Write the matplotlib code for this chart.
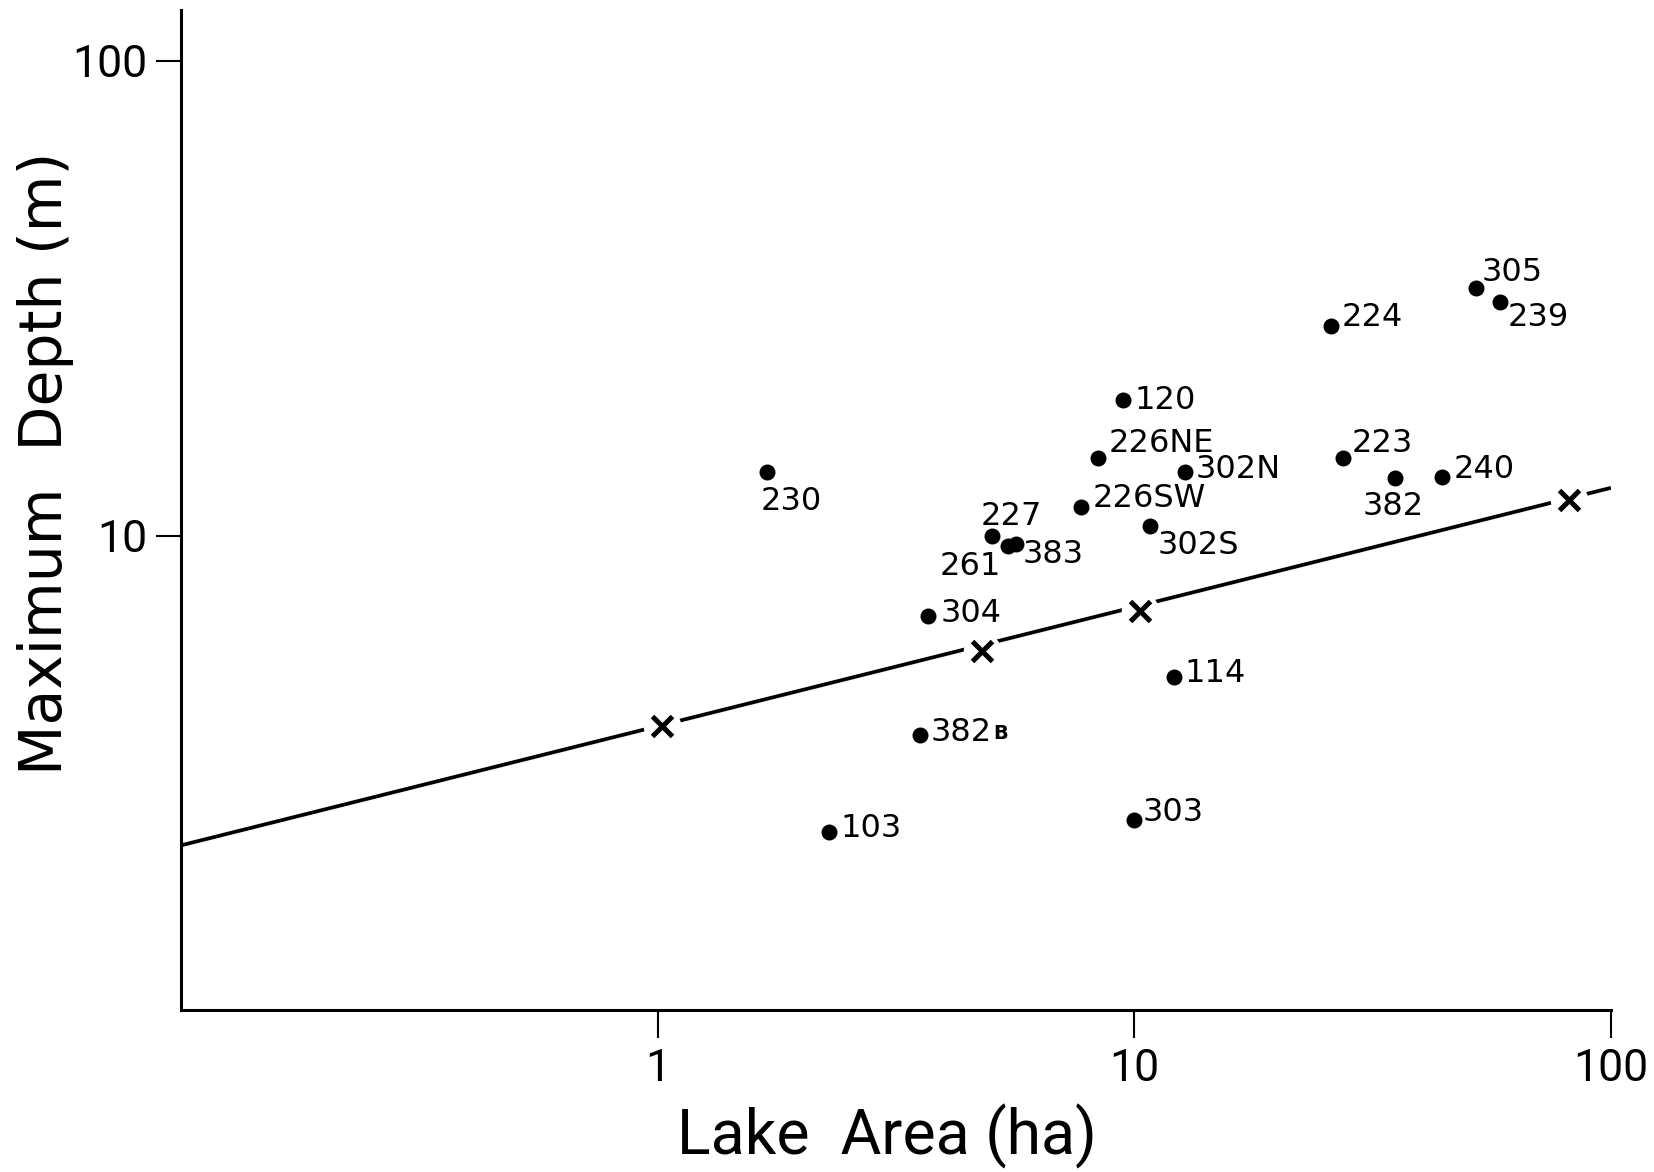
import matplotlib
matplotlib.use("Agg")
import matplotlib.pyplot as plt
import numpy as np

# Lake morphometry: surface area (ha) vs. maximum depth (m)
lakes = ["230", "120", "226NE", "302N", "226SW", "302S", "227", "261", "383",
         "304", "114", "382", "103", "303", "224", "305", "239", "223",
         "382", "240"]
area = [1.70, 9.49, 8.39, 12.8, 7.74, 10.8, 5.02, 5.42, 5.64,
        3.70, 12.1, 3.55, 2.29, 10.0, 25.8, 52.1, 58.6, 27.4,
        35.3, 44.3]
depth = [13.6, 19.3, 14.6, 13.6, 11.5, 10.5, 10.0, 9.52, 9.62,
         6.77, 5.05, 3.80, 2.38, 2.52, 27.7, 33.3, 31.0, 14.6,
         13.2, 13.3]
# suffix printed small after a lake number
suffix = {11: "B"}

# points marked with a cross on the fitted relation
cross_area = [1.02, 4.79, 10.3, 81.5]
cross_depth = [3.98, 5.71, 6.94, 11.9]

# fitted power law: depth = coef * area ** expo
fit_coef = 3.97
fit_expo = 0.251

x_ticks = [1, 10, 100]
x_tick_labels = ["1", "10", "100"]
y_ticks = [10, 100]
y_tick_labels = ["10", "100"]

# label placement: (dx, dy) in points (dy positive = down), horizontal alignment
label_pos = {
    0: (-5, 21, "left"), 1: (8, 0, "left"), 2: (8, -10, "left"),
    3: (7, -2, "left"), 4: (8, -6, "left"), 5: (5, 14, "left"),
    6: (-8, -14, "left"), 7: (-5, 15, "right"), 8: (5, 8, "left"),
    9: (9, -2, "left"), 10: (8, -2, "left"), 11: (8, -2, "left"),
    12: (8, -2, "left"), 13: (6, -5, "left"), 14: (8, -6, "left"),
    15: (4, -11, "left"), 16: (5, 11, "left"), 17: (6, -10, "left"),
    18: (-24, 20, "left"), 19: (8, -5, "left"),
}

plt.rcParams["font.family"] = ["DejaVu Sans"]
thin = ["Roboto", "DejaVu Sans"]

fig = plt.figure(figsize=(16.54, 11.72), dpi=100)
ax = fig.add_axes([0.1094, 0.1378, 0.8646, 0.8537])
ax.set_xscale("log")
ax.set_yscale("log")
ax.set_xlim(0.1, 100)
ax.set_ylim(1, 128)

for side in ("top", "right"):
    ax.spines[side].set_visible(False)
for side in ("left", "bottom"):
    ax.spines[side].set_linewidth(2.2)

ax.set_xticks(x_ticks)
ax.set_yticks(y_ticks)
ax.minorticks_off()
ax.set_xticklabels(x_tick_labels, family=thin, fontsize=32)
ax.set_yticklabels(y_tick_labels, family=thin, fontsize=32)
ax.tick_params(axis="x", direction="out", length=20, width=1.5, pad=7)
ax.tick_params(axis="y", direction="out", length=18, width=1.5, pad=6)

# fitted relation with gaps around the crosses
xs = np.logspace(-1, 2, 200)
ax.plot(xs, fit_coef * xs ** fit_expo, color="black", lw=2.7, zorder=2,
        solid_capstyle="butt")
ax.plot(cross_area, cross_depth, "o", ms=27, mfc="white", mec="none",
        zorder=3)
ax.plot(cross_area, cross_depth, "x", ms=14, mew=3.6, color="black", zorder=4)

# lakes
ax.plot(area, depth, "o", ms=11.5, color="black", mec="none", zorder=4,
        clip_on=False)
for i, (name, a, d) in enumerate(zip(lakes, area, depth)):
    dx, dy, ha = label_pos[i]
    ax.annotate(name, (a, d), xytext=(dx, -dy),
                textcoords="offset points", ha=ha, va="center",
                fontsize=23, zorder=5)
    if i in suffix:
        ax.annotate(suffix[i], (a, d), xytext=(dx + 45, -dy - 1),
                    textcoords="offset points", ha="left", va="center",
                    fontsize=14, fontweight="bold", zorder=5)

fig.text(0.536, 1 - 1136 / 1172, "Lake  Area (ha)", ha="center",
         va="center", fontsize=45, family=thin)
fig.text(0.0275, 1 - 463 / 1172, "Maximum  Depth (m)", ha="center",
         va="center", rotation=90, fontsize=42)

fig.savefig("out.png", dpi=100, facecolor="white")
